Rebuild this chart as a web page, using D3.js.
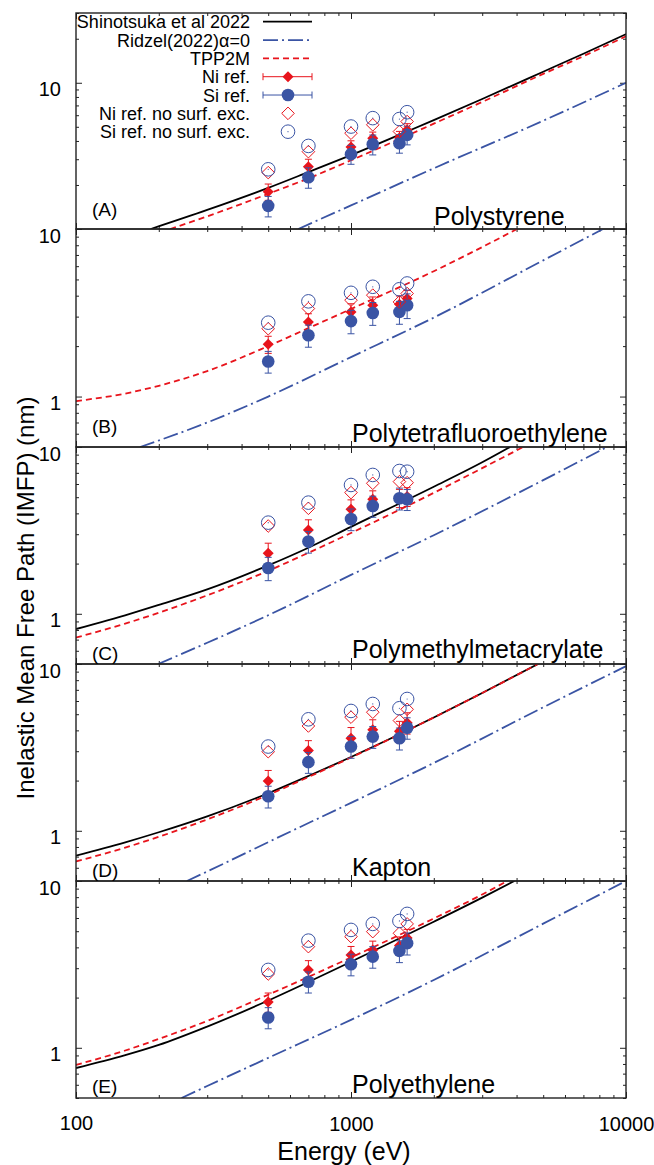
<!DOCTYPE html>
<html>
<head>
<meta charset="utf-8">
<script src="https://d3js.org/d3.v7.min.js"></script>
<style>
  body { margin: 0; background: #fff; }
  text { font-family: "Liberation Sans", Arial, sans-serif; fill: #000; }
</style>
</head>
<body>
<svg width="654" height="1165"></svg>
<script>
// energies of the reference measurements (eV)
const energies = [500, 700, 1000, 1200, 1500, 1600];

const panelNames = ["Polystyrene", "Polytetrafluoroethylene", "Polymethylmetacrylate", "Kapton", "Polyethylene"];
const panelTags = ["(A)", "(B)", "(C)", "(D)", "(E)"];
const yDomains = [[1, 30], [0.5, 10], [0.5, 10], [0.5, 10], [0.5, 10]];
const yLabelTicks = [[10], [1, 10], [1, 10], [1, 10], [1, 10]];
const xLabelTicks = [100, 1000, 10000];
const legendLabels = ["Shinotsuka et al 2022", "Ridzel(2022)\u03b1=0", "TPP2M", "Ni ref.", "Si ref.",
  "Ni ref. no surf. exc.", "Si ref. no surf. exc."];

// model curves, [energy eV, IMFP nm]
const psShinotsuka = [[187,1.0],[300,1.35],[500,1.91],[700,2.45],[1000,3.2],[1600,4.64],[2000,5.55],[3000,7.75],[5000,11.9],[7000,15.8],[10000,21.5]];
const psRidzel = [[643,1.0],[1000,1.45],[2000,2.6],[5000,5.5],[10000,10]];
const psTPP2M = [[220,1.0],[300,1.22],[500,1.74],[700,2.22],[1000,2.95],[1600,4.35],[2000,5.25],[3000,7.4],[5000,11.5],[7000,15.2],[10000,20.8]];

const ptfeShinotsuka = [];
const ptfeRidzel = [[171,0.5],[300,0.7],[500,1.0],[1000,1.72],[2000,2.96],[5000,6.5],[8250,10]];
const ptfeTPP2M = [[100,0.94],[150,1.04],[200,1.16],[300,1.42],[500,2.0],[700,2.56],[1000,3.33],[2000,5.6],[3000,7.8],[4015,10]];

const pmmaShinotsuka = [[100,0.81],[157,1.0],[200,1.13],[300,1.4],[500,1.95],[700,2.49],[1000,3.32],[2000,5.78],[3000,8.1],[3786,10]];
const pmmaRidzel = [[199,0.5],[300,0.67],[500,0.98],[1000,1.71],[2000,2.96],[5000,6.33],[8530,10]];
const pmmaTPP2M = [[100,0.72],[150,0.87],[200,1.015],[300,1.29],[500,1.81],[700,2.32],[1000,3.05],[2000,5.31],[3000,7.47],[4230,10]];

const kaptonShinotsuka = [[100,0.71],[150,0.85],[200,0.98],[300,1.22],[500,1.68],[700,2.13],[1000,2.77],[2000,4.78],[3000,6.7],[4786,10]];
const kaptonRidzel = [[253,0.5],[300,0.57],[500,0.855],[1000,1.47],[2000,2.55],[5000,5.5],[10000,9.7]];
const kaptonTPP2M = [[100,0.655],[150,0.79],[200,0.92],[300,1.17],[500,1.64],[700,2.1],[1000,2.75],[2000,4.78],[3000,6.7],[4786,10]];

const peShinotsuka = [[100,0.756],[150,0.9],[200,1.04],[300,1.34],[500,1.92],[700,2.48],[1000,3.28],[2000,5.7],[3000,7.95],[3926,10]];
const peRidzel = [[242,0.5],[300,0.59],[500,0.87],[1000,1.47],[2000,2.55],[5000,5.55],[10000,10]];
const peTPP2M = [[100,0.79],[150,0.96],[200,1.13],[300,1.45],[500,2.08],[700,2.66],[1000,3.48],[2000,5.96],[3000,8.3],[3700,10]];

// measured IMFPs (nm) at the energies above
const psNi = [1.80, 2.67, 3.63, 4.18, 4.2, 4.75];
const psNiErr = [0.23, 0.33, 0.38, 0.42, 0.45, 0.5];
const psSi = [1.44, 2.26, 3.25, 3.80, 3.86, 4.40];
const psSiErr = [0.23, 0.36, 0.48, 0.59, 0.56, 0.64];
const psNiNoSurf = [2.43, 3.38, 4.52, 5.16, 4.64, 5.43];
const psSiNoSurf = [2.56, 3.70, 5.02, 5.73, 5.65, 6.29];

const ptfeNi = [2.05, 2.79, 3.20, 3.51, 3.55, 3.85];
const ptfeNiErr = [0.24, 0.33, 0.38, 0.42, 0.43, 0.45];
const ptfeSi = [1.62, 2.32, 2.82, 3.15, 3.20, 3.51];
const ptfeSiErr = [0.24, 0.35, 0.45, 0.49, 0.50, 0.59];
const ptfeNiNoSurf = [2.54, 3.35, 3.76, 4.03, 3.67, 4.12];
const ptfeSiNoSurf = [2.76, 3.70, 4.16, 4.52, 4.37, 4.73];

const pmmaNi = [2.31, 3.18, 4.24, 4.86, 4.95, 5.05];
const pmmaNiErr = [0.34, 0.48, 0.58, 0.6, 0.62, 0.65];
const pmmaSi = [1.88, 2.71, 3.70, 4.43, 4.93, 4.86];
const pmmaSiErr = [0.30, 0.40, 0.55, 0.64, 0.74, 0.70];
const pmmaNiNoSurf = [3.36, 4.29, 5.33, 6.06, 6.2, 6.11];
const pmmaSiNoSurf = [3.52, 4.64, 5.92, 6.80, 7.18, 7.11];

const kaptonNi = [1.99, 3.03, 3.59, 4.03, 3.95, 4.45];
const kaptonNiErr = [0.31, 0.44, 0.57, 0.6, 0.58, 0.65];
const kaptonSi = [1.61, 2.58, 3.20, 3.67, 3.59, 4.15];
const kaptonSiErr = [0.24, 0.37, 0.48, 0.55, 0.54, 0.61];
const kaptonNiNoSurf = [2.98, 4.25, 4.80, 5.14, 4.58, 5.35];
const kaptonSiNoSurf = [3.20, 4.66, 5.23, 5.76, 5.43, 6.17];

const peNi = [1.88, 2.93, 3.60, 3.86, 4.1, 4.55];
const peNiErr = [0.25, 0.40, 0.45, 0.5, 0.52, 0.58];
const peSi = [1.52, 2.49, 3.17, 3.52, 3.81, 4.24];
const peSiErr = [0.22, 0.36, 0.47, 0.52, 0.57, 0.64];
const peNiNoSurf = [2.77, 4.04, 4.64, 4.97, 4.86, 5.53];
const peSiNoSurf = [2.93, 4.39, 5.09, 5.53, 5.76, 6.35];

const panels = [
  {shin: psShinotsuka, ridzel: psRidzel, tpp: psTPP2M, ni: psNi, niErr: psNiErr, si: psSi, siErr: psSiErr, niNS: psNiNoSurf, siNS: psSiNoSurf},
  {shin: ptfeShinotsuka, ridzel: ptfeRidzel, tpp: ptfeTPP2M, ni: ptfeNi, niErr: ptfeNiErr, si: ptfeSi, siErr: ptfeSiErr, niNS: ptfeNiNoSurf, siNS: ptfeSiNoSurf},
  {shin: pmmaShinotsuka, ridzel: pmmaRidzel, tpp: pmmaTPP2M, ni: pmmaNi, niErr: pmmaNiErr, si: pmmaSi, siErr: pmmaSiErr, niNS: pmmaNiNoSurf, siNS: pmmaSiNoSurf},
  {shin: kaptonShinotsuka, ridzel: kaptonRidzel, tpp: kaptonTPP2M, ni: kaptonNi, niErr: kaptonNiErr, si: kaptonSi, siErr: kaptonSiErr, niNS: kaptonNiNoSurf, siNS: kaptonSiNoSurf},
  {shin: peShinotsuka, ridzel: peRidzel, tpp: peTPP2M, ni: peNi, niErr: peNiErr, si: peSi, siErr: peSiErr, niNS: peNiNoSurf, siNS: peSiNoSurf}
];

const red = "#e8141c", blue = "#3a54a4", frame = "#222";
const dashRed = "6,4", dashBlue = "15,4,2,4";
const left = 76, right = 626;
const bounds = [13, 229, 447, 664, 881, 1098];

const svg = d3.select("svg");
const x = d3.scaleLog().domain([100, 10000]).range([left, right]);
const xMajor = [100, 1000, 10000];
const xMinor = x.ticks().filter(v => xMajor.indexOf(v) < 0);

const diamond = s => `M0,${-s}L${s},0L0,${s}L${-s},0Z`;

function errBars(g, vals, errs, y, color) {
  const eb = g.append("g").attr("stroke", color).attr("stroke-width", 1);
  vals.forEach((v, k) => {
    const cx = x(energies[k]), y0 = y(v - errs[k]), y1 = y(v + errs[k]);
    eb.append("line").attr("x1", cx).attr("x2", cx).attr("y1", y0).attr("y2", y1);
    eb.append("line").attr("x1", cx - 3.5).attr("x2", cx + 3.5).attr("y1", y0).attr("y2", y0);
    eb.append("line").attr("x1", cx - 3.5).attr("x2", cx + 3.5).attr("y1", y1).attr("y2", y1);
  });
}

panels.forEach((p, i) => {
  const top = bounds[i], bot = bounds[i + 1];
  const y = d3.scaleLog().domain(yDomains[i]).range([bot, top]);
  const yAll = y.ticks();
  const yMajor = yAll.filter(v => Math.abs(Math.log10(v) - Math.round(Math.log10(v))) < 1e-9);
  const yMinor = yAll.filter(v => yMajor.indexOf(v) < 0);

  svg.append("clipPath").attr("id", "clip" + i).append("rect")
    .attr("x", left).attr("y", top).attr("width", right - left).attr("height", bot - top);

  const axes = svg.append("g");
  axes.append("g").attr("transform", `translate(${left},0)`)
    .call(d3.axisLeft(y).tickValues(yMinor).tickSize(-3).tickFormat(""));
  axes.append("g").attr("transform", `translate(${left},0)`)
    .call(d3.axisLeft(y).tickValues(yMajor).tickSize(-6).tickPadding(15)
      .tickFormat(v => yLabelTicks[i].indexOf(v) >= 0 ? d3.format("d")(v) : ""));
  axes.append("g").attr("transform", `translate(${right},0)`)
    .call(d3.axisRight(y).tickValues(yMinor).tickSize(-3).tickFormat(""));
  axes.append("g").attr("transform", `translate(${right},0)`)
    .call(d3.axisRight(y).tickValues(yMajor).tickSize(-6).tickFormat(""));
  axes.append("g").attr("transform", `translate(0,${top})`)
    .call(d3.axisTop(x).tickValues(xMinor).tickSize(-3).tickFormat(""));
  axes.append("g").attr("transform", `translate(0,${top})`)
    .call(d3.axisTop(x).tickValues(xMajor).tickSize(-6).tickFormat(""));
  axes.append("g").attr("transform", `translate(0,${bot})`)
    .call(d3.axisBottom(x).tickValues(xMinor).tickSize(-3).tickFormat(""));
  axes.append("g").attr("transform", `translate(0,${bot})`)
    .call(d3.axisBottom(x).tickValues(xMajor).tickSize(-6).tickPadding(19)
      .tickFormat(v => (i === panels.length - 1 && xLabelTicks.indexOf(v) >= 0) ? d3.format("d")(v) : ""));
  axes.selectAll(".domain").remove();
  axes.selectAll(".tick line").attr("stroke", frame);
  axes.selectAll(".tick text").attr("font-size", 20).attr("font-family", "Liberation Sans, Arial, sans-serif").attr("fill", "#000");
  axes.selectAll("g").filter(function () { return this.getAttribute("transform").startsWith(`translate(${left}`); })
    .selectAll(".tick text").attr("dy", "0.65em");

  const g = svg.append("g").attr("clip-path", `url(#clip${i})`);
  const line = d3.line().x(d => x(d[0])).y(d => y(d[1])).curve(d3.curveMonotoneX);

  if (p.shin.length) g.append("path").attr("d", line(p.shin)).attr("fill", "none").attr("stroke", "#000").attr("stroke-width", 1.8);
  g.append("path").attr("d", line(p.ridzel)).attr("fill", "none").attr("stroke", blue).attr("stroke-width", 1.8).attr("stroke-dasharray", dashBlue);
  g.append("path").attr("d", line(p.tpp)).attr("fill", "none").attr("stroke", red).attr("stroke-width", 1.8).attr("stroke-dasharray", dashRed);

  errBars(g, p.ni, p.niErr, y, red);
  g.selectAll(null).data(p.ni).join("path")
    .attr("d", diamond(5.5)).attr("fill", red)
    .attr("transform", (d, k) => `translate(${x(energies[k])},${y(d)})`);

  errBars(g, p.si, p.siErr, y, blue);
  g.selectAll(null).data(p.si).join("circle")
    .attr("cx", (d, k) => x(energies[k])).attr("cy", d => y(d)).attr("r", 6.3).attr("fill", blue);

  g.selectAll(null).data(p.niNS).join("path")
    .attr("d", diamond(6.3)).attr("fill", "none").attr("stroke", red).attr("stroke-width", 1)
    .attr("transform", (d, k) => `translate(${x(energies[k])},${y(d)})`);

  g.selectAll(null).data(p.siNS).join("circle")
    .attr("cx", (d, k) => x(energies[k])).attr("cy", d => y(d)).attr("r", 6.8)
    .attr("fill", "none").attr("stroke", blue).attr("stroke-width", 1);
  g.selectAll(null).data(p.siNS).join("circle")
    .attr("cx", (d, k) => x(energies[k])).attr("cy", d => y(d)).attr("r", 0.6).attr("fill", blue);

  svg.append("rect").attr("x", left).attr("y", top).attr("width", right - left).attr("height", bot - top)
    .attr("fill", "none").attr("stroke", frame).attr("stroke-width", 1.4);
});

// panel labels
const tagY = [216, 433, 660, 877, 1093];
const nameX = [434, 352, 352, 352, 352];
const nameY = [225, 442, 658, 876, 1093];
panelTags.forEach((t, i) => {
  svg.append("text").attr("x", 92).attr("y", tagY[i]).attr("font-size", 19).text(t);
  svg.append("text").attr("x", nameX[i]).attr("y", nameY[i]).attr("font-size", 25).text(panelNames[i]);
});

// axis titles
svg.append("text").attr("x", 344).attr("y", 1160).attr("text-anchor", "middle").attr("font-size", 25).text("Energy (eV)");
svg.append("text").attr("transform", "translate(34,598) rotate(-90)").attr("text-anchor", "middle")
  .attr("font-size", 24).text("Inelastic Mean Free Path (IMFP) (nm)");

// legend
const lg = svg.append("g");
const rowY = d => 21.7 + d * 18.33;
const sx0 = 263, sx1 = 312, sxm = 288;
legendLabels.forEach((t, k) => {
  lg.append("text").attr("x", 250).attr("y", rowY(k) + 6.5).attr("text-anchor", "end").attr("font-size", 18).text(t);
});
lg.append("line").attr("x1", sx0).attr("x2", sx1).attr("y1", rowY(0)).attr("y2", rowY(0)).attr("stroke", "#000").attr("stroke-width", 1.8);
lg.append("line").attr("x1", sx0).attr("x2", sx1).attr("y1", rowY(1)).attr("y2", rowY(1)).attr("stroke", blue).attr("stroke-width", 1.8).attr("stroke-dasharray", dashBlue);
lg.append("line").attr("x1", sx0).attr("x2", sx1).attr("y1", rowY(2)).attr("y2", rowY(2)).attr("stroke", red).attr("stroke-width", 1.8).attr("stroke-dasharray", dashRed);
[[3, red], [4, blue]].forEach(([k, c]) => {
  const yy = rowY(k);
  lg.append("line").attr("x1", sx0).attr("x2", sx1).attr("y1", yy).attr("y2", yy).attr("stroke", c).attr("stroke-width", 1);
  lg.append("line").attr("x1", sx0).attr("x2", sx0).attr("y1", yy - 3.5).attr("y2", yy + 3.5).attr("stroke", c).attr("stroke-width", 1);
  lg.append("line").attr("x1", sx1).attr("x2", sx1).attr("y1", yy - 3.5).attr("y2", yy + 3.5).attr("stroke", c).attr("stroke-width", 1);
});
lg.append("path").attr("d", diamond(5.5)).attr("fill", red).attr("transform", `translate(${sxm},${rowY(3)})`);
lg.append("circle").attr("cx", sxm).attr("cy", rowY(4)).attr("r", 6.3).attr("fill", blue);
lg.append("path").attr("d", diamond(6.3)).attr("fill", "none").attr("stroke", red).attr("transform", `translate(${sxm},${rowY(5)})`);
lg.append("circle").attr("cx", sxm).attr("cy", rowY(6)).attr("r", 6.8).attr("fill", "none").attr("stroke", blue);
lg.append("circle").attr("cx", sxm).attr("cy", rowY(6)).attr("r", 0.6).attr("fill", blue);
</script>
</body>
</html>
